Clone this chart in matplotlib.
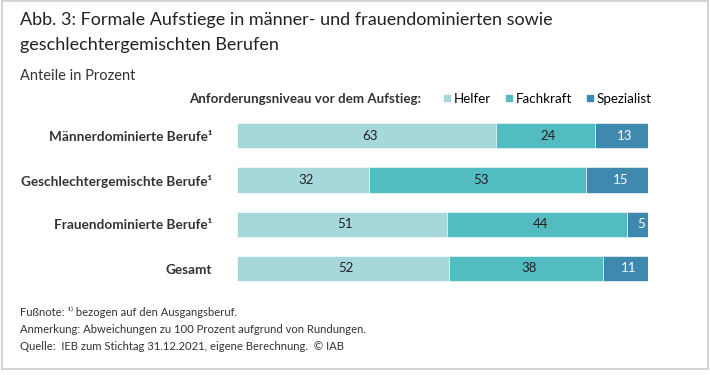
import matplotlib.pyplot as plt
from matplotlib.lines import Line2D
from matplotlib.patches import Rectangle

plt.rcParams['font.family'] = ['Lato', 'DejaVu Sans']

categories = ['Männerdominierte Berufe¹', 'Geschlechtergemischte Berufe¹',
              'Frauendominierte Berufe¹', 'Gesamt']
series = ['Helfer', 'Fachkraft', 'Spezialist']
helfer = [63, 32, 51, 52]
fachkraft = [24, 53, 44, 38]
spezialist = [13, 15, 5, 11]

colors = ['#a6d8db', '#52bcc0', '#3f88ae']
text_colors = ['#222222', '#222222', '#ffffff']

fig = plt.figure(figsize=(7.1, 3.75), dpi=100)
fig.patches.append(Rectangle((0.003, 0.016), 0.994, 0.981, transform=fig.transFigure,
                             fill=False, edgecolor='#d4d4d4', linewidth=1.5))

fig.text(20 / 710, 1 - 20 / 375, 'Abb. 3: Formale Aufstiege in männer- und frauendominierten sowie',
         fontsize=13, color='#222222', va='center')
fig.text(20 / 710, 1 - 45 / 375, 'geschlechtergemischten Berufen',
         fontsize=13, color='#222222', va='center')
fig.text(20 / 710, 1 - 76 / 375, 'Anteile in Prozent', fontsize=10.5, color='#333333', va='center')

ax = fig.add_axes([237 / 710, 0.225, 411 / 710, 0.472])
rows = list(zip(helfer, fachkraft, spezialist))
for i, row in enumerate(rows):
    total = sum(row)
    left = 0
    for j, v in enumerate(row):
        w = v / total * 100
        ax.barh(i, w, left=left, height=0.565, color=colors[j], edgecolor='white', linewidth=0.4)
        ax.text(left + w / 2 + 0.8, i, str(v), ha='center', va='center',
                fontsize=9.5, color=text_colors[j])
        left += w

ax.set_xlim(0, 100)
ax.set_ylim(3.5, -0.5)
ax.set_yticks(range(len(categories)))
ax.set_yticklabels(categories, fontsize=9.8, fontweight='bold', color='#333333')
ax.tick_params(axis='y', length=0, pad=18)
ax.set_xticks([])
for s in ax.spines.values():
    s.set_visible(False)

# legend
fig.text(421 / 710, 1 - 99 / 375, 'Anforderungsniveau vor dem Aufstieg:', ha='right', va='center',
         fontsize=9.6, fontweight='bold', color='#333333')
handles = [Line2D([], [], marker='s', linestyle='none', markersize=5, color=c) for c in colors]
fig.legend(handles, series, loc='center right', bbox_to_anchor=(652 / 710, 1 - 99 / 375),
           ncol=3, frameon=False, fontsize=9.6, handletextpad=0.05, columnspacing=0.9,
           handlelength=0.9, borderaxespad=0, borderpad=0)

notes = ['Fußnote: ¹⁾ bezogen auf den Ausgangsberuf.',
         'Anmerkung: Abweichungen zu 100 Prozent aufgrund von Rundungen.',
         'Quelle:  IEB zum Stichtag 31.12.2021, eigene Berechnung.  © IAB']
for k, line in enumerate(notes):
    fig.text(20 / 710, 1 - (312 + k * 17.5) / 375, line, fontsize=8.1, color='#333333', va='center')

fig.savefig('out.png', dpi=100)
